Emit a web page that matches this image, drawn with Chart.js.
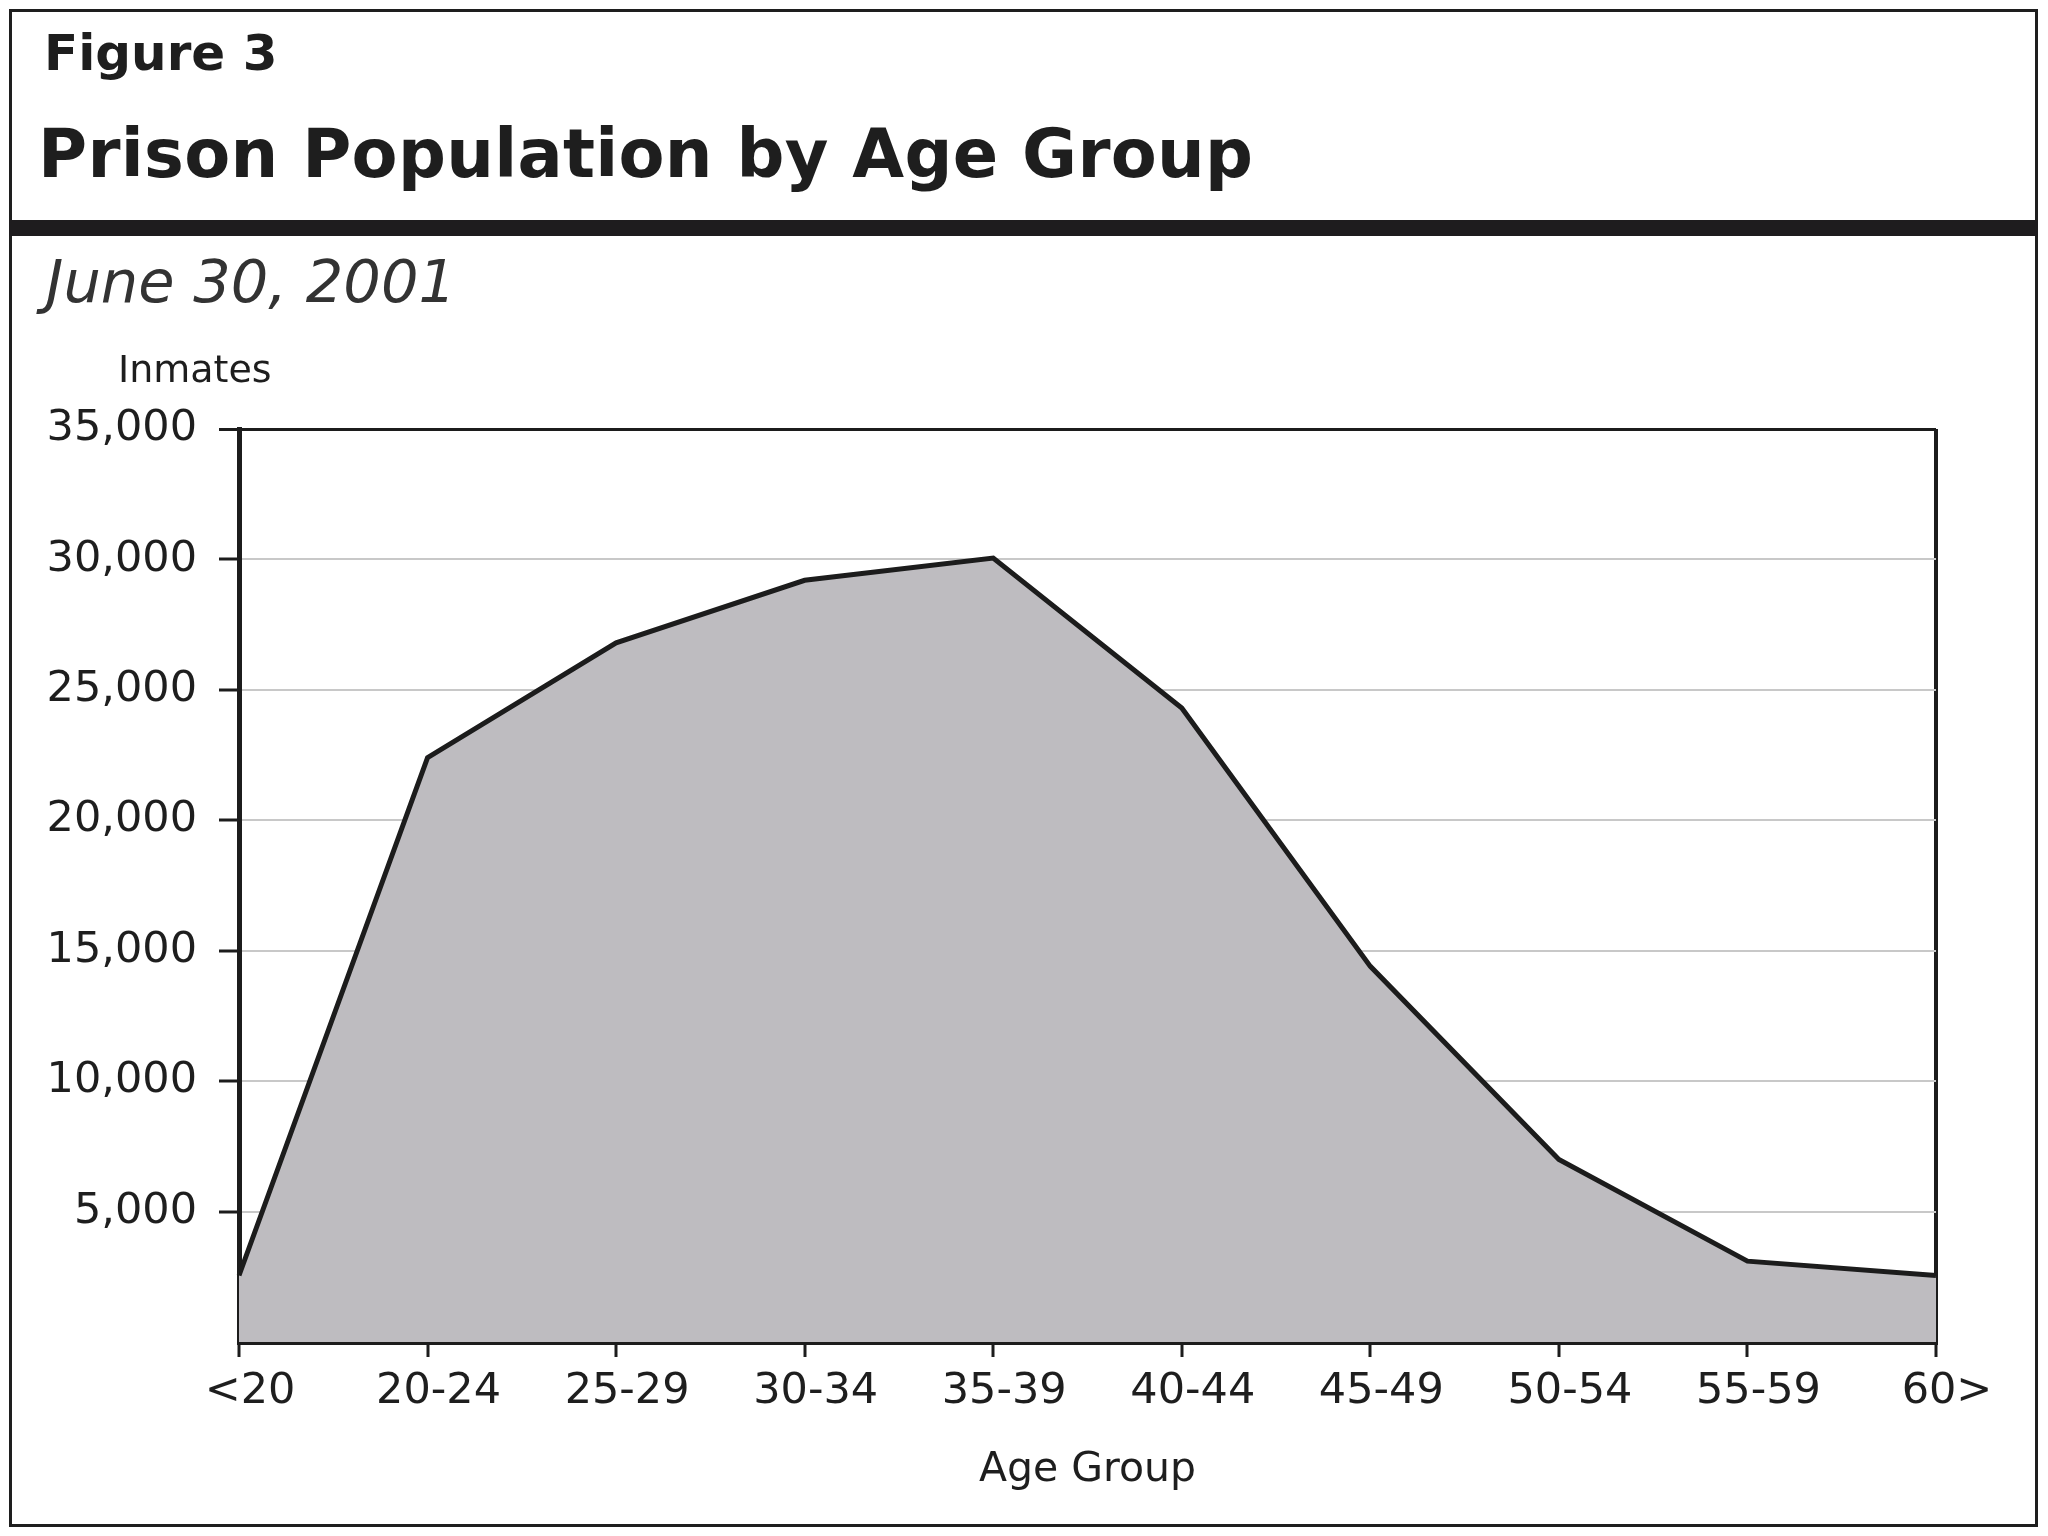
<!DOCTYPE html>
<html>
<head>
<meta charset="utf-8">
<script src="https://cdn.jsdelivr.net/npm/chart.js@4.4.0/dist/chart.umd.min.js"></script>
<style>
    html, body { margin: 0; padding: 0; background: #fff; }
    body { width: 2048px; height: 1536px; position: relative; overflow: hidden; font-family: "DejaVu Sans", sans-serif; color: #1e1e1e; }
    .frame { position: absolute; left: 9px; top: 9px; width: 2029px; height: 1518px; border: 3px solid #1e1e1e; box-sizing: border-box; }
    .bar { position: absolute; left: 9px; top: 220px; width: 2029px; height: 16px; background: #1e1c1e; }
    .txt { position: absolute; white-space: nowrap; line-height: 1; }
    #chartBox { position: absolute; left: 0; top: 0; width: 2048px; height: 1536px; }
</style>
</head>
<body>
<div id="chartBox"><canvas id="ageChart"></canvas></div>
<div class="frame"></div>
<div class="bar"></div>
<div class="txt" style="left:44px; top:28px; font-size:50px; font-weight:bold;">Figure 3</div>
<div class="txt" style="left:38px; top:121px; font-size:67px; font-weight:bold; letter-spacing:0.3px;">Prison Population by Age Group</div>
<div class="txt" style="left:46px; top:252px; font-size:59px; font-style:italic; color:#333;">June 30, 2001</div>
<div class="txt" style="left:118px; top:350px; font-size:38px;">Inmates</div>
<script>
// chart data
const ageGroups = ['<20', '20-24', '25-29', '30-34', '35-39', '40-44', '45-49', '50-54', '55-59', '60>'];
const inmates = [2550, 22400, 26800, 29200, 30050, 24300, 14400, 7000, 3100, 2550];
const yMax = 35000;
const yStep = 5000;

const ink = '#1c1c1c';

new Chart(document.getElementById('ageChart').getContext('2d'), {
    type: 'line',
    data: {
        labels: ageGroups,
        datasets: [{
            label: 'Inmates',
            data: inmates,
            borderColor: ink,
            borderWidth: 5,
            backgroundColor: 'rgb(190, 188, 192)',
            fill: 'origin',
            tension: 0,
            pointRadius: 0
        }]
    },
    options: {
        responsive: true,
        maintainAspectRatio: false,
        animation: false,
        layout: {
            padding: { top: 429, left: 0, right: 112, bottom: 41 }
        },
        plugins: {
            legend: { display: false },
            tooltip: { enabled: false }
        },
        scales: {
            x: {
                offset: false,
                afterFit: scale => { scale.height = 153; },
                border: { display: true, color: ink, width: 5 },
                grid: {
                    color: ctx => ctx.index === ageGroups.length - 1 ? ink : 'rgba(0,0,0,0)',
                    lineWidth: 4,
                    tickColor: ink,
                    tickLength: 15,
                    tickWidth: 3
                },
                ticks: {
                    color: '#1e1e1e',
                    font: { family: 'DejaVu Sans', size: 43 },
                    padding: 9,
                    labelOffset: 11,
                    maxRotation: 0,
                    autoSkip: false
                },
                title: {
                    display: true,
                    text: 'Age Group',
                    color: '#1e1e1e',
                    font: { family: 'DejaVu Sans', size: 41 },
                    padding: 0
                }
            },
            y: {
                min: 0,
                max: yMax,
                afterFit: scale => { scale.width = 239; },
                border: { display: true, color: ink, width: 5 },
                grid: {
                    color: ctx => {
                        if (ctx.tick.value === yMax) return ink;
                        if (ctx.tick.value === 0) return 'rgba(0,0,0,0)';
                        return '#c8c8c8';
                    },
                    lineWidth: ctx => ctx.tick.value === yMax ? 3 : 2,
                    tickColor: ctx => ctx.tick.value === 0 ? 'rgba(0,0,0,0)' : ink,
                    tickLength: 20,
                    tickWidth: 3
                },
                ticks: {
                    stepSize: yStep,
                    color: '#1e1e1e',
                    font: { family: 'DejaVu Sans', size: 43 },
                    padding: 22,
                    callback: v => v === 0 ? '' : v.toLocaleString('en-US')
                }
            }
        }
    }
});
</script>
</body>
</html>
